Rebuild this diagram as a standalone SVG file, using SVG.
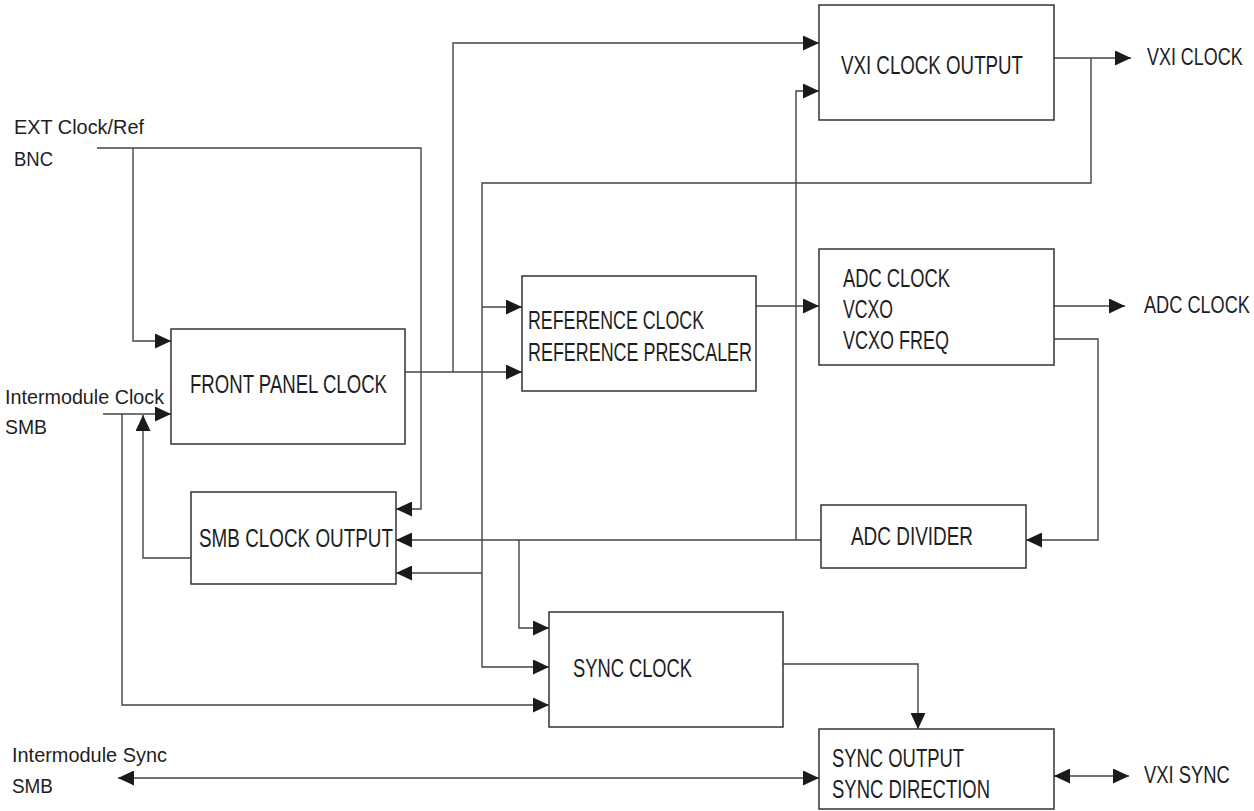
<svg xmlns="http://www.w3.org/2000/svg" width="1254" height="811" viewBox="0 0 1254 811">
  <style>
    .box { fill: #ffffff; stroke: #333333; stroke-width: 1.5; }
    .wire { fill: none; stroke: #444444; stroke-width: 1.4; }
    .lbl { font-family: "Liberation Sans", Arial, sans-serif; font-size: 25px; fill: #1e1e1e; }
    .ext { font-family: "Liberation Sans", Arial, sans-serif; font-size: 21px; fill: #1e1e1e; }
    .port { font-family: "Liberation Sans", Arial, sans-serif; font-size: 23px; fill: #1e1e1e; }
  </style>
  <defs>
    <marker id="arrow" markerUnits="userSpaceOnUse" markerWidth="16" markerHeight="15" refX="16" refY="7.5" orient="auto">
      <path d="M0,0 L16,7.5 L0,15 Z" fill="#1a1a1a"/>
    </marker>
    <marker id="arrowStart" markerUnits="userSpaceOnUse" markerWidth="16" markerHeight="15" refX="0" refY="7.5" orient="auto">
      <path d="M16,0 L0,7.5 L16,15 Z" fill="#1a1a1a"/>
    </marker>
  </defs>
  <rect width="1254" height="811" fill="#ffffff"/>

  <!-- connectors -->
  <g id="connectors" class="wire">
    <path d="M97,148 H421 V509 H396" marker-end="url(#arrow)"/>
    <path d="M133,148 V341 H171" marker-end="url(#arrow)"/>
    <path d="M103,414 H171" marker-end="url(#arrow)"/>
    <path d="M122,414 V705 H549" marker-end="url(#arrow)"/>
    <path d="M191,558 H143 V415" marker-end="url(#arrow)"/>
    <path d="M405,372 H522" marker-end="url(#arrow)"/>
    <path d="M453,372 V43 H819" marker-end="url(#arrow)"/>
    <path d="M1054,58 H1131" marker-end="url(#arrow)"/>
    <path d="M1091,58 V183 H482 V667 H549" marker-end="url(#arrow)"/>
    <path d="M482,307 H522" marker-end="url(#arrow)"/>
    <path d="M482,573 H396" marker-end="url(#arrow)"/>
    <path d="M756,306 H819" marker-end="url(#arrow)"/>
    <path d="M1054,306 H1125" marker-end="url(#arrow)"/>
    <path d="M1054,339 H1098 V540 H1026" marker-end="url(#arrow)"/>
    <path d="M821,540 H396" marker-end="url(#arrow)"/>
    <path d="M796,540 V91 H819" marker-end="url(#arrow)"/>
    <path d="M519,540 V628 H549" marker-end="url(#arrow)"/>
    <path d="M783,664 H918 V729" marker-end="url(#arrow)"/>
    <path d="M118,778 H819" marker-start="url(#arrowStart)" marker-end="url(#arrow)"/>
    <path d="M1054,776 H1129" marker-start="url(#arrowStart)" marker-end="url(#arrow)"/>
  </g>

  <!-- blocks -->
  <g id="vxi-clock-output">
    <rect class="box" x="819" y="5" width="235" height="115"/>
    <text class="lbl" x="841" y="74" textLength="182" lengthAdjust="spacingAndGlyphs">VXI CLOCK OUTPUT</text>
  </g>
  <g id="front-panel-clock">
    <rect class="box" x="171" y="329" width="234" height="115"/>
    <text class="lbl" x="190" y="393" textLength="197" lengthAdjust="spacingAndGlyphs">FRONT PANEL CLOCK</text>
  </g>
  <g id="reference-clock">
    <rect class="box" x="522" y="276" width="234" height="115"/>
    <text class="lbl" x="528" y="329" textLength="176" lengthAdjust="spacingAndGlyphs">REFERENCE CLOCK</text>
    <text class="lbl" x="528" y="361" textLength="224" lengthAdjust="spacingAndGlyphs">REFERENCE PRESCALER</text>
  </g>
  <g id="adc-clock">
    <rect class="box" x="819" y="249" width="235" height="116"/>
    <text class="lbl" x="843" y="287" textLength="107" lengthAdjust="spacingAndGlyphs">ADC CLOCK</text>
    <text class="lbl" x="843" y="318" textLength="50" lengthAdjust="spacingAndGlyphs">VCXO</text>
    <text class="lbl" x="843" y="349" textLength="106" lengthAdjust="spacingAndGlyphs">VCXO FREQ</text>
  </g>
  <g id="smb-clock-output">
    <rect class="box" x="191" y="492" width="205" height="92"/>
    <text class="lbl" x="199" y="547" textLength="194" lengthAdjust="spacingAndGlyphs">SMB CLOCK OUTPUT</text>
  </g>
  <g id="adc-divider">
    <rect class="box" x="821" y="505" width="205" height="63"/>
    <text class="lbl" x="851" y="545" textLength="122" lengthAdjust="spacingAndGlyphs">ADC DIVIDER</text>
  </g>
  <g id="sync-clock">
    <rect class="box" x="549" y="612" width="234" height="115"/>
    <text class="lbl" x="573" y="677" textLength="119" lengthAdjust="spacingAndGlyphs">SYNC CLOCK</text>
  </g>
  <g id="sync-output">
    <rect class="box" x="819" y="729" width="235" height="80"/>
    <text class="lbl" x="832" y="767" textLength="132" lengthAdjust="spacingAndGlyphs">SYNC OUTPUT</text>
    <text class="lbl" x="832" y="798" textLength="158" lengthAdjust="spacingAndGlyphs">SYNC DIRECTION</text>
  </g>

  <!-- external ports -->
  <g id="ext-clock-ref">
    <text class="ext" x="14" y="134" textLength="130" lengthAdjust="spacingAndGlyphs">EXT Clock/Ref</text>
    <text class="ext" x="14" y="166" textLength="39" lengthAdjust="spacingAndGlyphs">BNC</text>
  </g>
  <g id="intermodule-clock">
    <text class="ext" x="5" y="404" textLength="159" lengthAdjust="spacingAndGlyphs">Intermodule Clock</text>
    <text class="ext" x="5" y="434" textLength="42" lengthAdjust="spacingAndGlyphs">SMB</text>
  </g>
  <g id="intermodule-sync">
    <text class="ext" x="12" y="762" textLength="155" lengthAdjust="spacingAndGlyphs">Intermodule Sync</text>
    <text class="ext" x="12" y="793" textLength="41" lengthAdjust="spacingAndGlyphs">SMB</text>
  </g>
  <g id="vxi-clock">
    <text class="port" transform="translate(1147,65) scale(0.78,1)">VXI CLOCK</text>
  </g>
  <g id="adc-clock-out">
    <text class="port" transform="translate(1144,313) scale(0.79,1)">ADC CLOCK</text>
  </g>
  <g id="vxi-sync">
    <text class="port" transform="translate(1144,783) scale(0.8,1)">VXI SYNC</text>
  </g>
</svg>
